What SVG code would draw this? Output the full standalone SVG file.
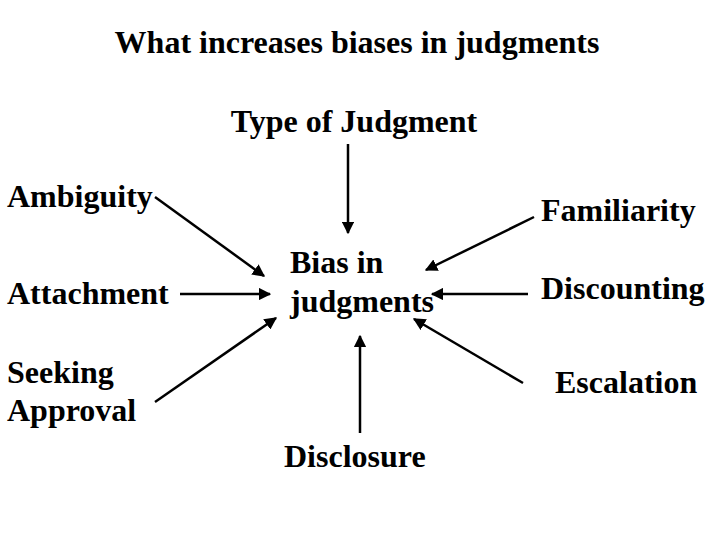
<svg xmlns="http://www.w3.org/2000/svg" width="720" height="540" viewBox="0 0 720 540">
<style>
text{font-family:"Liberation Serif","Times New Roman",serif;fill:#000;font-size:32px;font-weight:bold;}
.c line{stroke:#000;stroke-width:2.5;marker-end:url(#ah);}
</style>
<defs>
<marker id="ah" viewBox="0 0 10 10" refX="9" refY="5" markerWidth="5" markerHeight="5" orient="auto" markerUnits="strokeWidth">
<path d="M0,0 L10,5 L0,10 z" fill="#000"/>
</marker>
</defs>
<rect width="720" height="540" fill="#fff"/>
<g id="title"><text x="357" y="53" text-anchor="middle">What increases biases in judgments</text></g>
<g id="type"><text x="354" y="132" text-anchor="middle">Type of Judgment</text></g>
<g id="ambiguity"><text x="7" y="207">Ambiguity</text></g>
<g id="familiarity"><text x="541" y="221">Familiarity</text></g>
<g id="attachment"><text x="7" y="304">Attachment</text></g>
<g id="bias"><text x="290" y="273">Bias in</text><text x="290" y="312">judgments</text></g>
<g id="discounting"><text x="541" y="299">Discounting</text></g>
<g id="seeking"><text x="7" y="383">Seeking</text><text x="7" y="421">Approval</text></g>
<g id="escalation"><text x="555" y="393">Escalation</text></g>
<g id="disclosure"><text x="284" y="467">Disclosure</text></g>
<g class="c" id="connectors">
<line x1="155" y1="197" x2="264" y2="276"/>
<line x1="180" y1="294" x2="270" y2="294"/>
<line x1="155" y1="402" x2="276" y2="318"/>
<line x1="348" y1="144" x2="348" y2="233"/>
<line x1="534" y1="217" x2="426" y2="270"/>
<line x1="528" y1="294" x2="432" y2="294"/>
<line x1="523" y1="383" x2="414" y2="319"/>
<line x1="360" y1="433" x2="360" y2="336"/>
</g>
</svg>
